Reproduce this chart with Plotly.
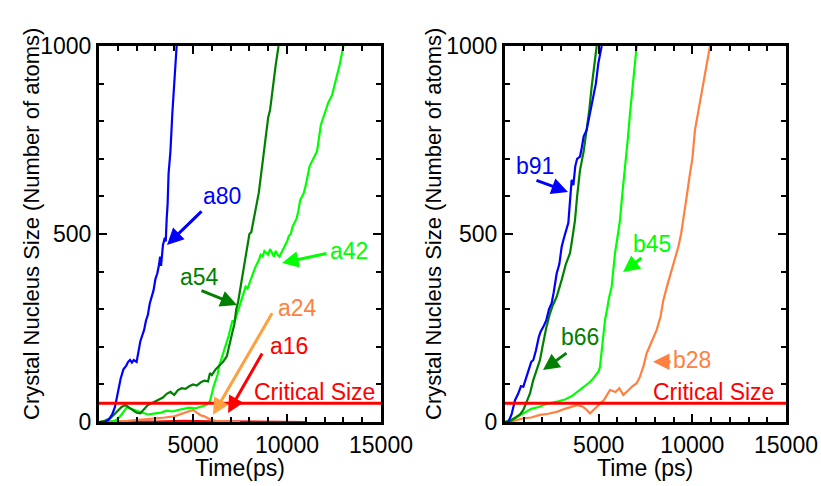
import plotly.graph_objects as go

# ---------------- data ----------------
# Left panel
a80_t = [0, 300, 500, 700, 850, 1000, 1150, 1300, 1450, 1550, 1650, 1750, 1850, 2000, 2100, 2200, 2300, 2400, 2500, 2600, 2700, 2800, 2900, 3000, 3100, 3200, 3250, 3300, 3400, 3500, 3550, 3600, 3650, 3700, 3800, 3900, 4000, 4050, 4130]
a80_n = [0, 0, 5, 20, 40, 80, 115, 140, 150, 160, 165, 158, 165, 160, 190, 215, 230, 245, 270, 285, 315, 330, 350, 380, 395, 420, 440, 415, 470, 490, 480, 540, 580, 660, 720, 820, 900, 950, 1000]

a54_t = [0, 300, 600, 800, 1000, 1200, 1400, 1600, 1800, 2000, 2200, 2400, 2600, 2800, 3000, 3200, 3400, 3600, 3800, 4000, 4200, 4400, 4600, 4800, 5000, 5200, 5400, 5600, 5800, 5900, 6000, 6200, 6400, 6600, 6800, 6900, 7000, 7100, 7200, 7300, 7400, 7500, 7600, 7700, 7800, 7900, 8000, 8100, 8200, 8300, 8400, 8500, 8600, 8700, 8800, 8900, 9000, 9100, 9200, 9300, 9400, 9500, 9550]
a54_n = [0, 3, 10, 20, 32, 40, 45, 38, 30, 25, 23, 35, 45, 50, 55, 60, 65, 75, 80, 72, 85, 90, 88, 95, 100, 97, 105, 110, 108, 130, 125, 140, 150, 160, 175, 200, 215, 240, 260, 300, 320, 350, 380, 420, 445, 470, 500, 505, 530, 560, 585, 610, 650, 700, 730, 770, 810, 830, 880, 910, 950, 985, 1000]

a42_t = [0, 500, 800, 1000, 1200, 1500, 1700, 2000, 2300, 2600, 3000, 3300, 3600, 3900, 4200, 4500, 4800, 5100, 5400, 5700, 5900, 6000, 6100, 6200, 6300, 6400, 6500, 6600, 6700, 6800, 6900, 7000, 7100, 7200, 7300, 7400, 7500, 7600, 7700, 7800, 7900, 8000, 8100, 8200, 8300, 8400, 8500, 8600, 8700, 8800, 8900, 9000, 9100, 9200, 9300, 9400, 9500, 9600, 9700, 9800, 9900, 10000, 10100, 10200, 10300, 10400, 10500, 10600, 10700, 10800, 10900, 11000, 11200, 11400, 11600, 11800, 12000, 12200, 12400, 12600, 12800, 13000, 13200]
a42_n = [0, 0, 3, 8, 20, 40, 35, 30, 25, 20, 23, 25, 30, 28, 32, 35, 38, 36, 40, 45, 55, 80, 95, 110, 125, 150, 165, 180, 200, 210, 230, 250, 270, 265, 280, 300, 310, 330, 345, 360, 355, 370, 385, 395, 410, 420, 430, 445, 440, 455, 450, 445, 460, 450, 440, 455, 445, 440, 450, 460, 470, 480, 495, 500, 520, 530, 540, 560, 590, 600, 610, 630, 680, 700, 720, 790, 820, 850, 870, 910, 950, 1000, 1020]

a24_t = [0, 500, 1000, 1500, 2000, 2500, 3000, 3500, 4000, 4300, 4600, 4800, 5000, 5200, 5400, 5600, 5800, 6000, 6200, 6500, 7000, 7500]
a24_n = [0, 0, 2, 3, 5, 8, 10, 12, 15, 20, 25, 28, 32, 25, 18, 15, 10, 5, 3, 2, 1, 0]

a16_t = [0, 1500, 3000, 4500, 6000, 7500, 9000, 10500, 11000]
a16_n = [0, 2, 1, 3, 2, 1, 2, 1, 0]

# Right panel
b91_t = [0, 178, 350, 534, 700, 850, 979, 1100, 1250, 1400, 1512, 1650, 1800, 1900, 2046, 2200, 2350, 2491, 2600, 2758, 2900, 3025, 3150, 3300, 3381, 3450, 3500, 3559, 3650, 3750, 3850, 4004, 4100, 4200, 4360, 4450, 4550, 4716, 4850, 4982, 5160]
b91_n = [0, 0, 20, 58, 75, 95, 94, 115, 140, 160, 165, 190, 225, 240, 253, 270, 300, 316, 345, 395, 420, 466, 490, 515, 530, 575, 600, 644, 630, 680, 700, 706, 730, 760, 777, 800, 830, 865, 900, 954, 1000]

b66_t = [0, 300, 623, 800, 979, 1150, 1335, 1500, 1700, 1868, 2000, 2200, 2402, 2550, 2758, 2900, 3025, 3250, 3470, 3600, 3737, 3850, 4004, 4200, 4360, 4500, 4627, 4750, 4893]
b66_n = [0, 3, 14, 20, 32, 55, 76, 110, 140, 165, 200, 250, 289, 310, 333, 355, 378, 420, 449, 490, 537, 600, 670, 720, 777, 830, 892, 940, 1000]

b45_t = [0, 270, 600, 979, 1400, 1800, 2200, 2758, 3200, 3600, 4000, 4182, 4500, 4700, 4893, 5000, 5071, 5150, 5250, 5338, 5450, 5550, 5694, 5800, 5872, 6000, 6139, 6250, 6406, 6550, 6673, 6800, 6886, 7028]
b45_n = [0, 5, 12, 23, 35, 40, 48, 54, 60, 70, 85, 94, 105, 115, 129, 135, 147, 190, 230, 271, 300, 330, 360, 410, 449, 490, 537, 600, 670, 750, 821, 880, 927, 1000]

b28_t = [0, 270, 600, 1000, 1400, 1868, 2300, 2758, 3200, 3500, 3826, 4100, 4300, 4538, 4800, 5071, 5300, 5605, 5900, 6100, 6317, 6600, 6800, 7028, 7200, 7400, 7562, 7800, 8096, 8300, 8452, 8700, 8897, 9100, 9253, 9400, 9520, 9700, 9875, 10000, 10142, 10300, 10498, 10650, 10765, 10943]
b28_n = [0, 0, 5, 10, 12, 19, 22, 27, 35, 40, 45, 42, 35, 23, 35, 50, 60, 85, 80, 90, 72, 85, 95, 103, 120, 150, 183, 210, 245, 280, 324, 370, 404, 440, 466, 500, 537, 600, 661, 700, 777, 820, 883, 920, 954, 1000]

critical_size = 50
x_range = [0, 15000]
y_range = [0, 1000]
x_ticks = [5000, 10000, 15000]
x_ticktext = ["5000", "10000", "15000"]
y_ticks = [0, 500, 1000]
y_ticktext = ["0", "500", "1000"]

BLUE = "#0000FF"
DGREEN = "#008000"
LGREEN = "#00FF00"
ORANGE = "#FF8040"
LORANGE = "#FFA040"
RED = "#FF0000"

FONT = "Liberation Sans, Arial, sans-serif"
FS = 23

fig = go.Figure()

def line(t, n, color, xa, ya, width=2.2):
    fig.add_trace(go.Scatter(x=t, y=n, mode="lines", line=dict(color=color, width=width),
                             xaxis=xa, yaxis=ya, showlegend=False, hoverinfo="skip"))

# left
line(a16_t, a16_n, RED, "x", "y")
line(a24_t, a24_n, ORANGE, "x", "y")
line(a42_t, a42_n, LGREEN, "x", "y")
line(a54_t, a54_n, DGREEN, "x", "y")
line(a80_t, a80_n, BLUE, "x", "y")
line(x_range, [critical_size, critical_size], RED, "x", "y", width=3)
# right
line(b28_t, b28_n, ORANGE, "x2", "y2")
line(b45_t, b45_n, LGREEN, "x2", "y2")
line(b66_t, b66_n, DGREEN, "x2", "y2")
line(b91_t, b91_n, BLUE, "x2", "y2")
line(x_range, [critical_size, critical_size], RED, "x2", "y2", width=3)

axis_common = dict(showline=True, linewidth=3, linecolor="black", mirror="allticks",
                   ticks="inside", ticklen=8, tickwidth=2, tickcolor="black",
                   showgrid=False, zeroline=False, automargin=False,
                   tickfont=dict(family=FONT, size=FS, color="black"))

xminor = dict(tickmode="linear", tick0=0, dtick=1000, ticklen=5, tickwidth=2, ticks="inside", tickcolor="black")
yminor = dict(tickmode="linear", tick0=0, dtick=100, ticklen=5, tickwidth=2, ticks="inside", tickcolor="black")

xd1 = [99 / 821, 381 / 821]
xd2 = [505 / 821, 786 / 821]
yd = [(486 - 422) / 486, (486 - 46) / 486]

fig.update_layout(
    width=821, height=486, margin=dict(l=0, r=0, t=0, b=0, autoexpand=False),
    paper_bgcolor="white", plot_bgcolor="white",
    font=dict(family=FONT, size=FS, color="black"),
    xaxis=dict(domain=xd1, range=x_range, anchor="y", tickmode="array", tickvals=x_ticks,
               ticktext=x_ticktext, minor=xminor, **axis_common),
    yaxis=dict(domain=yd, range=y_range, anchor="x", tickmode="array", tickvals=y_ticks,
               ticktext=y_ticktext, minor=yminor, **axis_common),
    xaxis2=dict(domain=xd2, range=x_range, anchor="y2", tickmode="array", tickvals=x_ticks,
                ticktext=x_ticktext, minor=xminor, **axis_common),
    yaxis2=dict(domain=yd, range=y_range, anchor="x2", tickmode="array", tickvals=y_ticks,
                ticktext=y_ticktext, minor=yminor, **axis_common),
)

ann = []

def label(text, x, y, color, xr, yr):
    ann.append(dict(text=text, x=x, y=y, xref=xr, yref=yr, showarrow=False,
                    font=dict(family=FONT, size=FS, color=color), xanchor="center", yanchor="middle"))

def arrow(tip, tail, color, xr, yr):
    ann.append(dict(text="", x=tip[0], y=tip[1], ax=tail[0], ay=tail[1], xref=xr, yref=yr,
                    axref=xr, ayref=yr, showarrow=True, arrowhead=2, arrowsize=1.1,
                    arrowwidth=3, arrowcolor=color))

# left panel annotations
label("a80", 6543, 601, BLUE, "x", "y"); arrow((3617, 471), (5532, 564), BLUE, "x", "y")
label("a54", 5319, 386, DGREEN, "x", "y"); arrow((7340, 311), (5372, 351), DGREEN, "x", "y")
label("a42", 13298, 455, LGREEN, "x", "y"); arrow((9734, 423), (12181, 449), LGREEN, "x", "y")
label("a24", 10532, 303, ORANGE, "x", "y"); arrow((6064, 19), (9255, 293), LORANGE, "x", "y")
label("a16", 10106, 202, RED, "x", "y"); arrow((6862, 24), (8723, 186), RED, "x", "y")
label("Critical Size", 11436, 80, RED, "x", "y")
# right panel annotations
label("b91", 1601, 681, BLUE, "x2", "y2"); arrow((3363, 612), (1601, 644), BLUE, "x2", "y2")
label("b45", 7847, 473, LGREEN, "x2", "y2"); arrow((6299, 399), (7367, 439), LGREEN, "x2", "y2")
label("b66", 4004, 226, DGREEN, "x2", "y2"); arrow((2028, 138), (3363, 186), DGREEN, "x2", "y2")
label("b28", 9982, 165, ORANGE, "x2", "y2"); arrow((7900, 160), (8915, 160), ORANGE, "x2", "y2")
label("Critical Size", 11103, 80, RED, "x2", "y2")

# axis titles
ytitle = "Crystal Nucleus Size (Number of atoms)"
ann.append(dict(text=ytitle, x=31 / 821, y=(486 - 224) / 486, xref="paper", yref="paper", showarrow=False,
                textangle=-90, font=dict(family=FONT, size=22, color="black"), xanchor="center", yanchor="middle"))
ann.append(dict(text=ytitle, x=433 / 821, y=(486 - 224) / 486, xref="paper", yref="paper", showarrow=False,
                textangle=-90, font=dict(family=FONT, size=22, color="black"), xanchor="center", yanchor="middle"))
ann.append(dict(text="Time(ps)", x=240 / 821, y=(486 - 468) / 486, xref="paper", yref="paper", showarrow=False,
                font=dict(family=FONT, size=FS, color="black"), xanchor="center", yanchor="middle"))
ann.append(dict(text="Time (ps)", x=645 / 821, y=(486 - 468) / 486, xref="paper", yref="paper", showarrow=False,
                font=dict(family=FONT, size=FS, color="black"), xanchor="center", yanchor="middle"))

fig.update_layout(annotations=ann)
fig.write_html("out.html")
